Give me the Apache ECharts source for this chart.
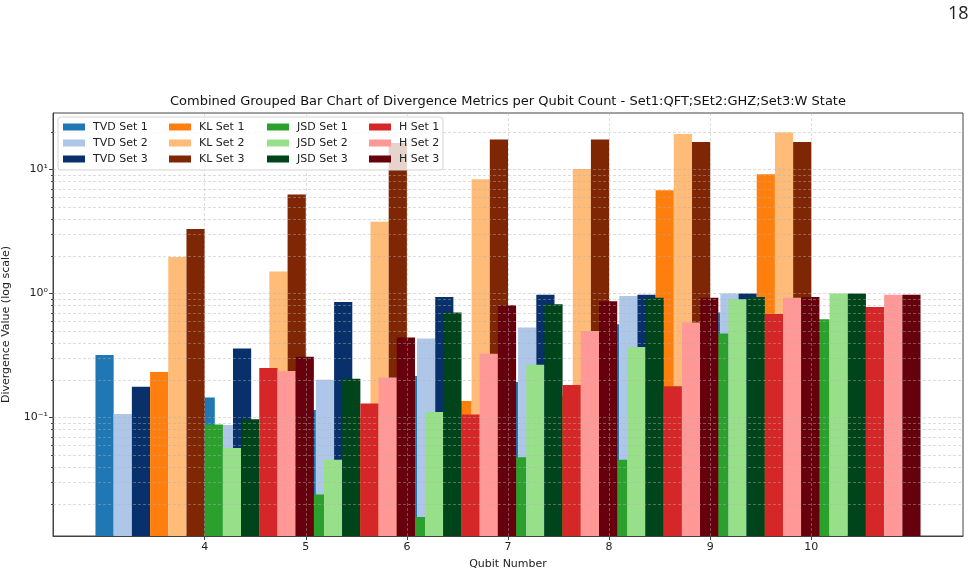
<!DOCTYPE html>
<html lang="en">
<head>
    <meta charset="utf-8">
    <title>Divergence Metrics per Qubit Count</title>
    <script src="https://cdn.jsdelivr.net/npm/echarts@6/dist/echarts.min.js"></script>
    <style>
        html, body {
            margin: 0px;
            padding: 0px;
            width: 100%;
            height: 100%;
            background-color: #fff;
        }

        #chart {
            width: 977px;
            height: 575px;
        }
    </style>
</head>
<body>
<div id="chart"></div>
<script type="text/javascript">
    // qubit counts on the x axis
    var qubits = [4, 5, 6, 7, 8, 9, 10];

    // Set1: QFT, Set2: GHZ, Set3: W State
    var tvdSet1 = [0.32, 0.145, 0.115, 0.217, 0.194, 0.565, 0.703];
    var tvdSet2 = [0.107, 0.087, 0.202, 0.434, 0.532, 0.957, 1.0];
    var tvdSet3 = [0.177, 0.36, 0.855, 0.94, 0.98, 0.98, 1.0];
    var klSet1 = [0.233, 0.07, 0.1, 0.136, 0.15, 6.81, 9.17];
    var klSet2 = [1.97, 1.51, 3.8, 8.35, 10.1, 19.4, 19.9];
    var klSet3 = [3.32, 6.29, 16.4, 17.5, 17.5, 16.7, 16.7];
    var jsdSet1 = [0.088, 0.024, 0.0158, 0.048, 0.0458, 0.476, 0.621];
    var jsdSet2 = [0.057, 0.0458, 0.111, 0.267, 0.371, 0.9, 1.0];
    var jsdSet3 = [0.097, 0.206, 0.703, 0.82, 0.928, 0.94, 1.0];
    var hSet1 = [0.251, 0.13, 0.106, 0.183, 0.179, 0.685, 0.78];
    var hSet2 = [0.238, 0.211, 0.328, 0.5, 0.584, 0.928, 0.98];
    var hSet3 = [0.31, 0.442, 0.805, 0.867, 0.928, 0.94, 0.98];

    // tick values of the log y axis
    var yMajorTicks = [0.1, 1, 10];
    var yMinorTicks = [0.02, 0.03, 0.04, 0.05, 0.06, 0.07, 0.08, 0.09,
                       0.2, 0.3, 0.4, 0.5, 0.6, 0.7, 0.8, 0.9,
                       2, 3, 4, 5, 6, 7, 8, 9, 20];

    var seriesList = [
        {name: 'TVD Set 1', values: tvdSet1, color: '#1f77b4'},
        {name: 'TVD Set 2', values: tvdSet2, color: '#aec7e8'},
        {name: 'TVD Set 3', values: tvdSet3, color: '#08306b'},
        {name: 'KL Set 1', values: klSet1, color: '#ff7f0e'},
        {name: 'KL Set 2', values: klSet2, color: '#ffbb78'},
        {name: 'KL Set 3', values: klSet3, color: '#7f2704'},
        {name: 'JSD Set 1', values: jsdSet1, color: '#2ca02c'},
        {name: 'JSD Set 2', values: jsdSet2, color: '#98df8a'},
        {name: 'JSD Set 3', values: jsdSet3, color: '#00441b'},
        {name: 'H Set 1', values: hSet1, color: '#d62728'},
        {name: 'H Set 2', values: hSet2, color: '#ff9896'},
        {name: 'H Set 3', values: hSet3, color: '#67000d'}
    ];

    var FONT = '"DejaVu Sans", sans-serif';
    var barWidth = 0.18;
    var yMin = 0.0111, yMax = 28.6;

    var myChart = echarts.init(document.getElementById('chart'), null, {renderer: 'canvas'});

    function renderBar(params, api) {
        var x = api.value(0);
        var v = api.value(1);
        var left = api.coord([x - barWidth / 2, v]);
        var right = api.coord([x + barWidth / 2, v]);
        var bottom = params.coordSys.y + params.coordSys.height;
        return {
            type: 'rect',
            shape: {x: left[0], y: left[1], width: right[0] - left[0], height: bottom - left[1]},
            style: {fill: api.visual('color')}
        };
    }

    var seriesData = [];
    for (var i = 0; i < seriesList.length; i++) {
        var offset = (i - (seriesList.length - 1) / 2) * barWidth;
        var pts = [];
        for (var k = 0; k < qubits.length; k++) {
            pts.push([qubits[k] + offset, seriesList[i].values[k]]);
        }
        seriesData.push({
            name: seriesList[i].name,
            type: 'custom',
            renderItem: renderBar,
            clip: true,
            encode: {x: 0, y: 1},
            itemStyle: {color: seriesList[i].color},
            z: 2,
            data: pts
        });
    }

    // dashed grid lines are drawn above the bars, like matplotlib does
    var gridLines = [];
    yMajorTicks.concat(yMinorTicks).forEach(function (v) { gridLines.push({yAxis: v}); });
    qubits.forEach(function (q) { gridLines.push({xAxis: q}); });
    seriesData.push({
        type: 'line',
        data: [],
        silent: true,
        markLine: {
            silent: true,
            symbol: 'none',
            animation: false,
            z: 5,
            label: {show: false},
            lineStyle: {color: 'rgba(176,176,176,0.55)', type: [3, 2], width: 0.8},
            data: gridLines
        }
    });

    // legend: four columns of three entries
    var legendLefts = [63, 169, 267, 369];
    var legends = [];
    for (var c = 0; c < 4; c++) {
        legends.push({
            orient: 'vertical',
            left: legendLefts[c],
            top: 120,
            padding: 0,
            itemWidth: 22,
            itemHeight: 7,
            itemGap: 2,
            icon: 'rect',
            selectedMode: false,
            z: 10,
            textStyle: {fontFamily: FONT, fontSize: 11, color: '#222', lineHeight: 14, padding: [0, 0, 0, 3]},
            data: seriesList.slice(c * 3, c * 3 + 3).map(function (s) { return s.name; })
        });
    }

    var sup = {'-': '\u207b', '0': '\u2070', '1': '\u00b9', '2': '\u00b2', '3': '\u00b3'};
    function logLabel(v) {
        var e = String(Math.round(Math.log10(v)));
        var s = '';
        for (var j = 0; j < e.length; j++) s += sup[e[j]];
        return '10' + s;
    }

    var option = {
        animation: false,
        backgroundColor: '#fff',
        title: {
            text: 'Combined Grouped Bar Chart of Divergence Metrics per Qubit Count - Set1:QFT;SEt2:GHZ;Set3:W State',
            left: 508,
            textAlign: 'center',
            top: 95,
            padding: 0,
            textStyle: {fontFamily: FONT, fontSize: 13, fontWeight: 'normal', color: '#111'}
        },
        legend: legends,
        grid: {
            left: 53,
            top: 113,
            width: 910,
            height: 423,
            containLabel: false,
            outerBoundsMode: 'none',
            show: true,
            borderColor: '#444',
            borderWidth: 1,
            backgroundColor: 'transparent'
        },
        graphic: [
            {
                type: 'rect',
                z: 8,
                shape: {x: 58, y: 117, width: 385, height: 53, r: 3},
                style: {fill: 'rgba(255,255,255,0.8)', stroke: '#d4d4d4', lineWidth: 1}
            },
            {
                type: 'text',
                z: 8,
                left: 948,
                top: 5,
                style: {text: '18', fontFamily: '"Open Sans", sans-serif', fontSize: 18, fill: '#222'}
            }
        ],
        xAxis: {
            type: 'value',
            min: 2.5,
            max: 11.5,
            name: 'Qubit Number',
            nameLocation: 'middle',
            nameGap: 23,
            nameTextStyle: {fontFamily: FONT, fontSize: 11, color: '#222'},
            axisLine: {show: true, lineStyle: {color: '#444', width: 1}},
            axisTick: {show: true, length: 4, customValues: qubits, lineStyle: {color: '#444'}},
            axisLabel: {customValues: qubits, fontFamily: FONT, fontSize: 11, color: '#222', margin: 6},
            splitLine: {show: false}
        },
        yAxis: [
            {
                type: 'log',
                min: yMin,
                max: yMax,
                position: 'left',
                name: 'Divergence Value (log scale)',
                nameLocation: 'middle',
                nameGap: 41,
                nameMoveOverlap: false,
                nameTextStyle: {fontFamily: FONT, fontSize: 11, color: '#222'},
                axisLine: {show: true, lineStyle: {color: '#444', width: 1}},
                axisTick: {show: true, length: 4, customValues: yMajorTicks, lineStyle: {color: '#444'}},
                axisLabel: {customValues: yMajorTicks, formatter: logLabel, fontFamily: FONT, fontSize: 11, color: '#222', margin: 5},
                splitLine: {show: false}
            },
            {
                type: 'log',
                min: yMin,
                max: yMax,
                position: 'left',
                offset: 0,
                axisLine: {show: false},
                axisTick: {show: true, length: 2, customValues: yMinorTicks, lineStyle: {color: '#444'}},
                axisLabel: {show: false},
                splitLine: {show: false}
            }
        ],
        series: seriesData
    };

    myChart.setOption(option, true);
</script>
</body>
</html>
